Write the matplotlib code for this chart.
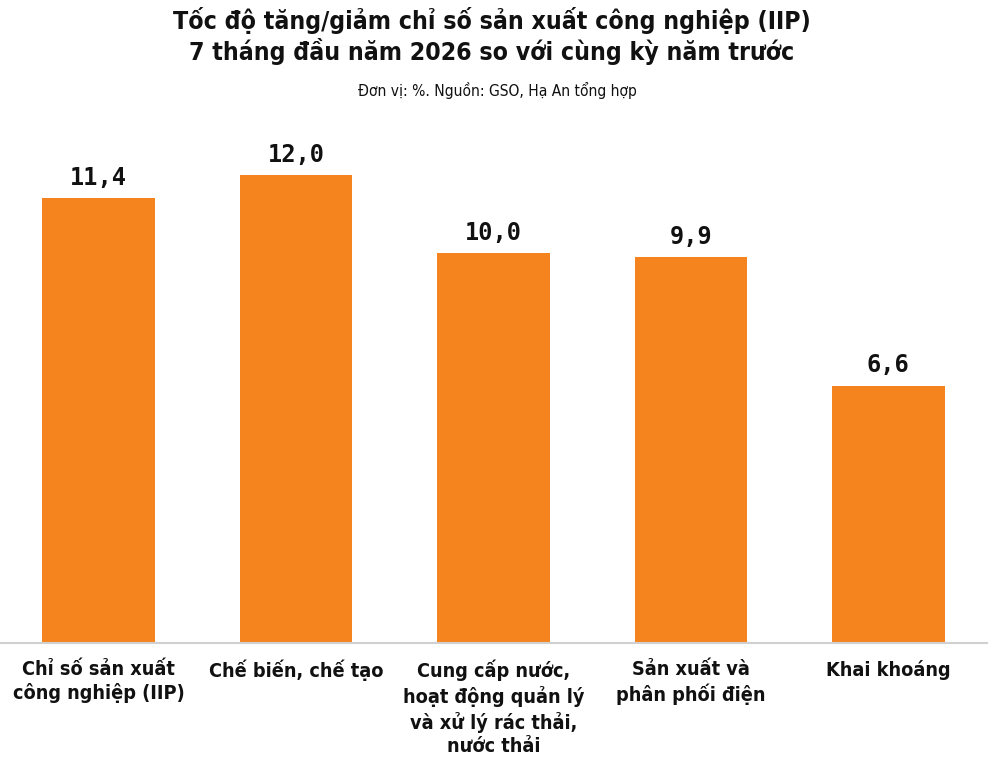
import matplotlib
matplotlib.use("Agg")
import matplotlib.pyplot as plt

categories = [
    "Chỉ số sản xuất\ncông nghiệp (IIP)",
    "Chế biến, chế tạo",
    "Cung cấp nước,\nhoạt động quản lý\nvà xử lý rác thải,\nnước thải",
    "Sản xuất và\nphân phối điện",
    "Khai khoáng",
]
values = [11.4, 12.0, 10.0, 9.9, 6.6]
value_labels = ["11,4", "12,0", "10,0", "9,9", "6,6"]

title = "Tốc độ tăng/giảm chỉ số sản xuất công nghiệp (IIP)\n7 tháng đầu năm 2026 so với cùng kỳ năm trước"
subtitle = "Đơn vị: %. Nguồn: GSO, Hạ An tổng hợp"

W, H = 1000, 764
fig = plt.figure(figsize=(W / 100, H / 100), dpi=100)
fig.patch.set_facecolor("white")

base_px = 643
top_px = 136
ax = fig.add_axes([0, (H - base_px) / H, 987 / W, (base_px - top_px) / H])
ax.set_facecolor("none")

x = list(range(len(categories)))
bars = ax.bar(x, values, width=0.57, color="#F5841F", zorder=2)
ax.set_xlim(-0.5, 4.5)
ax.set_ylim(0, 13)

for spine in ["top", "right", "left"]:
    ax.spines[spine].set_visible(False)
ax.spines["bottom"].set_color("#d0d0d0")
ax.spines["bottom"].set_linewidth(1.5)
ax.set_yticks([])
ax.set_xticks(x)
ax.set_xticklabels(categories, fontsize=14.2, fontweight="bold",
                   family="DejaVu Sans", fontstretch="condensed",
                   linespacing=1.28, va="top", color="#111111")
ax.tick_params(axis="x", length=0, pad=12)

for xi, v, lab in zip(x, values, value_labels):
    ax.annotate(lab, (xi, v), xytext=(0, 6), textcoords="offset points",
                ha="center", va="bottom", fontsize=17, fontweight="bold",
                family="DejaVu Sans Mono", color="#111111")

fig.text(0.492, 1 - 36 / H, title, ha="center", va="center", fontsize=17.8,
         fontweight="bold", family="DejaVu Sans", fontstretch="condensed",
         linespacing=1.15, color="#111111")
fig.text(0.497, 1 - 90 / H, subtitle, ha="center", va="center", fontsize=11.2,
         family="DejaVu Sans", fontstretch="condensed", color="#111111")

fig.savefig("out.png", dpi=100, facecolor="white")
